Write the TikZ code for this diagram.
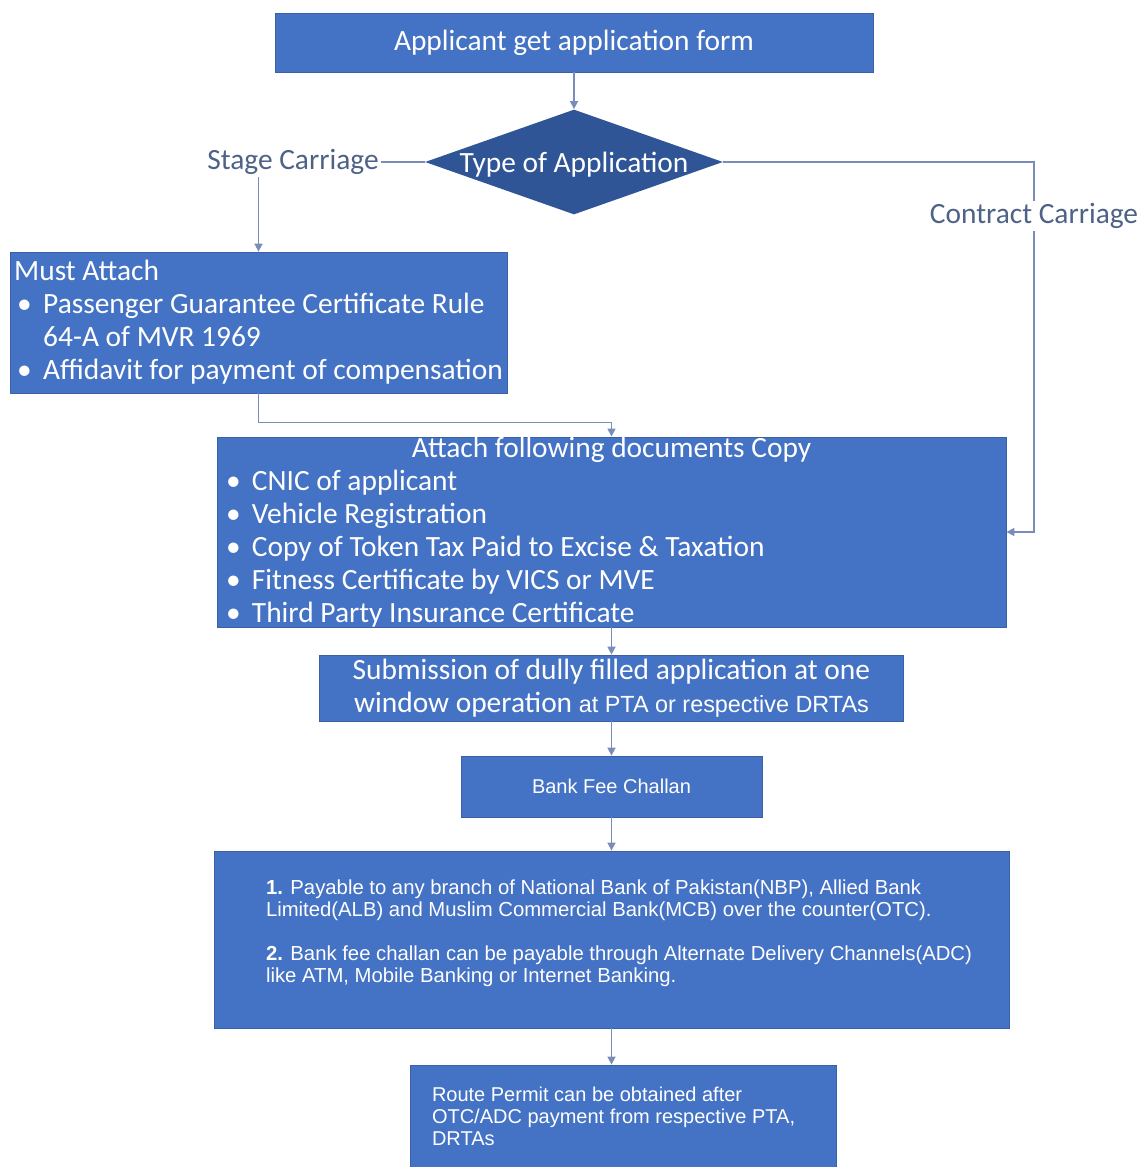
\documentclass[tikz,border=0pt]{standalone}
\usepackage{fontspec}
\setmainfont{Carlito}
\newfontfamily\arialfont{Liberation Sans}
\usetikzlibrary{arrows.meta,positioning,shapes.geometric}

\definecolor{boxblue}{HTML}{4472C4}
\definecolor{decisionblue}{HTML}{2F5597}
\definecolor{linkblue}{HTML}{7A8CB8}
\definecolor{labelgray}{HTML}{4E6287}

% bullet with a fixed hanging indent
\newcommand{\bitem}[1]{\makebox[14.5pt][l]{\hspace{1.5pt}\textbullet}#1}

\begin{document}
\begin{tikzpicture}[
  x=0.5pt, y=-0.5pt,
  box/.style={fill=boxblue, draw=boxblue!85!black, line width=0.4pt,
              text=white, inner sep=0pt, font=\fontsize{14.7}{16.5}\selectfont},
  decision/.style={diamond, aspect=2.84, fill=decisionblue, text=white,
                   inner sep=0pt, minimum width=149pt, minimum height=52.5pt,
                   text height=11pt, text depth=1pt,
                   font=\fontsize{14.7}{16.5}\selectfont},
  branch/.style={text=labelgray, inner sep=1pt, font=\fontsize{14.7}{16.5}\selectfont},
  small/.style={font=\arialfont\fontsize{10}{11}\selectfont},
  link/.style={draw=linkblue, line width=0.8pt},
  arrow/.style={link, -{Triangle[length=4pt, width=4pt]}}
]
  \useasboundingbox (0,0) rectangle (1143,1167);

  % --- top: form and decision --------------------------------------
  \node[box, minimum width=299pt, minimum height=29.5pt] (form) at (574,42.5)
    {Applicant get application form};
  \node[decision] (type) at (574,162) {Type of Application};

  \node[branch] (stage) at (293,162) {Stage Carriage};
  \node[branch, fill=white] (contract) at (1034,216) {Contract Carriage};

  % --- documents ----------------------------------------------------
  \node[box, minimum width=248.5pt, minimum height=70.5pt, align=left] (must) at (258.5,322.5)
    {Must Attach\\
     \bitem{Passenger Guarantee Certificate Rule}\\
     \hspace*{14.5pt}64-A of MVR 1969\\
     \bitem{Affidavit for payment of compensation}};

  \node[box, minimum width=394.5pt, minimum height=95pt, text width=388.5pt,
        inner xsep=3pt, align=flush left] (docs) at (611.5,532)
    {{\centering Attach following documents Copy\par}
     \bitem{CNIC of applicant}\\
     \bitem{Vehicle Registration}\\
     \bitem{Copy of Token Tax Paid to Excise \& Taxation}\\
     \bitem{Fitness Certificate by VICS or MVE}\\
     \bitem{Third Party Insurance Certificate}};

  % --- submission and payment ---------------------------------------
  \node[box, minimum width=292pt, minimum height=33pt, align=center] (submit) at (611.5,688)
    {Submission of dully filled application at one\\
     window operation {\arialfont\fontsize{11.7}{16.5}\selectfont at PTA or respective DRTAs}};

  \node[box, small, minimum width=150.5pt, minimum height=30.5pt] (challan) at (611.5,786.5)
    {Bank Fee Challan};

  \node[box, small, font=\arialfont\fontsize{10.15}{11}\selectfont,
        minimum width=397.5pt, minimum height=88.5pt, text width=345.5pt,
        inner xsep=26pt, align=flush left] (pay) at (611.5,939.5)
    {\mbox{\textbf{1.} Payable to any branch of National Bank of Pakistan(NBP), Allied Bank}\\
     \mbox{Limited(ALB) and Muslim Commercial Bank(MCB) over the counter(OTC).}\\[11pt]
     \mbox{\textbf{2.} Bank fee challan can be payable through Alternate Delivery Channels(ADC)}\\
     \mbox{like ATM, Mobile Banking or Internet Banking.}\par\vspace*{6pt}};

  \node[box, small, minimum width=213pt, minimum height=51pt, text width=191pt,
        inner xsep=11pt, align=flush left] (permit) at (623,1116)
    {Route Permit can be obtained after\\
     OTC/ADC payment from respective PTA,\\
     DRTAs};

  % --- connectors ---------------------------------------------------
  \draw[arrow] (form) -- (type);
  \draw[link] (type.west) -- (stage.east);
  \draw[arrow] (stage.south -| must.north) -- (must.north);
  \draw[link] (type.east) -| (contract.north);
  \draw[arrow] (contract.south) |- (docs.east);
  \draw[arrow] (must.south) -- ++(0,29) -| (docs.north);
  \draw[arrow] (docs) -- (submit);
  \draw[arrow] (submit) -- (challan);
  \draw[arrow] (challan) -- (pay);
  \draw[arrow] (pay.south) -- (pay.south |- permit.north);
\end{tikzpicture}
\end{document}
